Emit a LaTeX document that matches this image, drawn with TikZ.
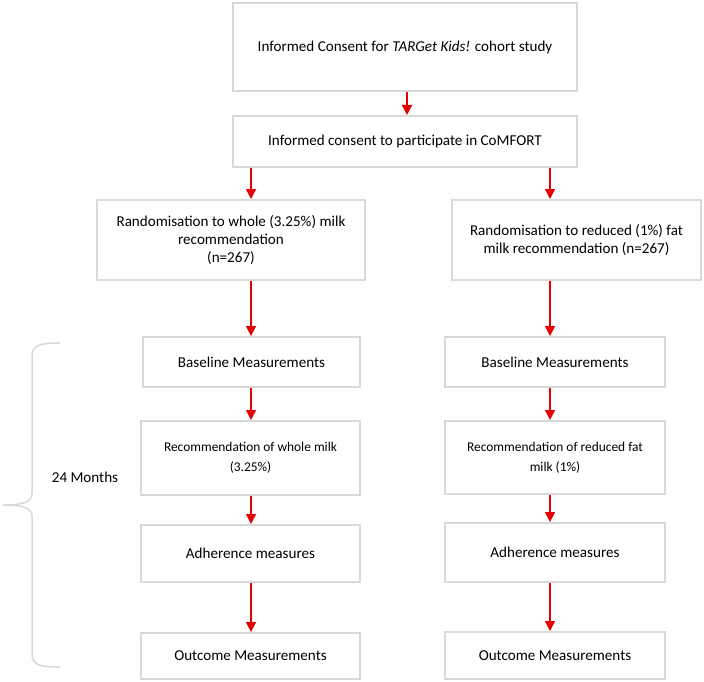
\documentclass[tikz,border=0pt]{standalone}
\usepackage{fontspec}
\setmainfont{Carlito}
\usetikzlibrary{arrows.meta}
\definecolor{boxgrey}{RGB}{217,217,217}
\definecolor{arrred}{RGB}{226,0,0}
\tikzset{
  flowbox/.style={draw=boxgrey, line width=2pt, rectangle, align=center, inner sep=2pt,
    font=\fontsize{15.1}{18}\selectfont},
  smallbox/.style={flowbox, font=\fontsize{13.4}{20}\selectfont},
  arr/.style={draw=arrred, line width=1.5pt, -{Triangle[width=10pt,length=10pt]}},
  bracestyle/.style={draw=boxgrey, line width=1.5pt}
}
\begin{document}
\begin{tikzpicture}[x=1pt,y=-1pt]
\useasboundingbox (0,0) rectangle (704,682);
% top boxes
\node[flowbox, minimum width=344pt, minimum height=88pt] (box1) at (405,47)
  {\raisebox{-3pt}{Informed Consent for \textit{TARGet Kids!} cohort study}};
\node[flowbox, minimum width=344pt, minimum height=51pt] (box2) at (405,141.5)
  {Informed consent to participate in CoMFORT};
% randomisation
\node[flowbox, minimum width=268pt, minimum height=80pt] (randL) at (231,240)
  {Randomisation to whole (3.25\%) milk\\recommendation\\(n=267)};
\node[flowbox, minimum width=249pt, minimum height=80pt] (randR) at (576.5,240)
  {Randomisation to reduced (1\%) fat\\milk recommendation (n=267)};
% left column
\node[flowbox, minimum width=217pt, minimum height=50pt] (baseL) at (251.5,362) {Baseline Measurements};
\node[smallbox, minimum width=219pt, minimum height=74pt] (recL) at (250.5,458) {Recommendation of whole milk\\(3.25\%)};
\node[flowbox, minimum width=219pt, minimum height=57pt] (adhL) at (250.5,553.5) {Adherence measures};
\node[flowbox, minimum width=219pt, minimum height=46pt] (outL) at (250.5,656) {Outcome Measurements};
% right column
\node[flowbox, minimum width=220pt, minimum height=50pt] (baseR) at (555,362) {Baseline Measurements};
\node[smallbox, minimum width=220pt, minimum height=73pt] (recR) at (555,457.5) {Recommendation of reduced fat\\milk (1\%)};
\node[flowbox, minimum width=220pt, minimum height=59pt] (adhR) at (555,552.5) {Adherence measures};
\node[flowbox, minimum width=220pt, minimum height=47pt] (outR) at (555,655.5) {Outcome Measurements};
% arrow columns
\coordinate (colL) at (251,0);
\coordinate (colR) at (550,0);
\coordinate (colT) at (407,0);
\draw[arr] (box1.south -| colT) -- (box2.north -| colT);
\draw[arr] (box2.south -| colL) -- (randL.north -| colL);
\draw[arr] (box2.south -| colR) -- (randR.north -| colR);
\draw[arr] (randL.south -| colL) -- (baseL.north -| colL);
\draw[arr] (randR.south -| colR) -- (baseR.north -| colR);
\draw[arr] (baseL.south -| colL) -- (recL.north -| colL);
\draw[arr] (baseR.south -| colR) -- (recR.north -| colR);
\draw[arr] (recL.south -| colL) -- (adhL.north -| colL);
\draw[arr] (recR.south -| colR) -- (adhR.north -| colR);
\draw[arr] (adhL.south -| colL) -- (outL.north -| colL);
\draw[arr] (adhR.south -| colR) -- (outR.north -| colR);
% brace
\draw[bracestyle] (60,343) .. controls (40,343) and (32,345) .. (32,356)
  -- (32,494) .. controls (32,503) and (20,505) .. (3,505)
  .. controls (20,505) and (32,507) .. (32,516)
  -- (32,654) .. controls (32,665) and (40,667) .. (60,667);
\node[font=\fontsize{15.1}{18}\selectfont] (months) at (85,477) {24 Months};
\end{tikzpicture}
\end{document}
